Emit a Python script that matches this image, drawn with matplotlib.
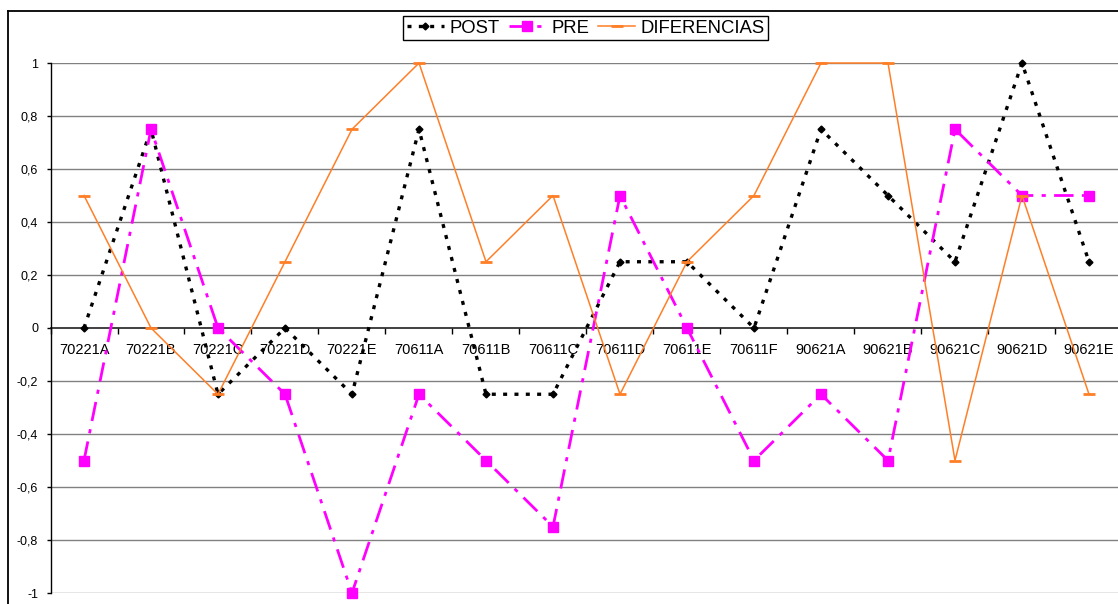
import matplotlib
matplotlib.use("Agg")
import matplotlib.pyplot as plt
from matplotlib.lines import Line2D
import numpy as np

plt.rcParams['font.family'] = ['Liberation Sans', 'DejaVu Sans']

categories = ["70221A", "70221B", "70221C", "70221D", "70221E", "70611A",
              "70611B", "70611C", "70611D", "70611E", "70611F", "90621A",
              "90621B", "90621C", "90621D", "90621E"]
post = [0, 0.75, -0.25, 0, -0.25, 0.75, -0.25, -0.25, 0.25, 0.25, 0,
        0.75, 0.5, 0.25, 1, 0.25]
pre = [-0.5, 0.75, 0, -0.25, -1, -0.25, -0.5, -0.75, 0.5, 0, -0.5,
       -0.25, -0.5, 0.75, 0.5, 0.5]
diferencias = [0.5, 0, -0.25, 0.25, 0.75, 1, 0.25, 0.5, -0.25, 0.25, 0.5,
               1, 1, -0.5, 0.5, -0.25]
y_ticks = [-1, -0.8, -0.6, -0.4, -0.2, 0, 0.2, 0.4, 0.6, 0.8, 1]
y_tick_labels = ["-1", "-0,8", "-0,6", "-0,4", "-0,2", "0", "0,2", "0,4",
                 "0,6", "0,8", "1"]

W, H = 1118, 604
fig = plt.figure(figsize=(W / 100, H / 100), dpi=100)
fig.patch.set_facecolor('white')

# outer chart frame (top and left edges visible)
fig.add_artist(Line2D([8 / W, 8 / W], [0, 1 - 11 / H], transform=fig.transFigure,
                      color='black', lw=1.3))
fig.add_artist(Line2D([8 / W, 1], [1 - 11 / H, 1 - 11 / H], transform=fig.transFigure,
                      color='black', lw=1.3))

left, right = 50.5, 50.5 + 16 * 67
bottom, top = 604 - 593, 604 - 63
ax = fig.add_axes([left / W, bottom / H, (right - left) / W, (top - bottom) / H])
ax.set_facecolor('none')

x = np.arange(len(categories))

# horizontal gridlines
for yv in y_ticks:
    if yv != 0:
        ax.axhline(yv, color='#808080', lw=1.0, zorder=1)

ax.plot(x, post, color='black', lw=2.4, linestyle=(0, (1.2, 2.2)),
        marker='D', markersize=3.5, markerfacecolor='black', markeredgecolor='black',
        label='POST', zorder=3, clip_on=False)
ax.plot(x, pre, color='#FF00FF', lw=2.0, linestyle=(0, (7, 3, 1.5, 3)),
        marker='s', markersize=7, markerfacecolor='#FF00FF', markeredgecolor='#FF00FF',
        label='PRE', zorder=4, clip_on=False)
ax.plot(x, diferencias, color='#FF7F27', lw=1.1, linestyle='-',
        marker='_', markersize=9, markeredgewidth=2, markeredgecolor='#FF7F27',
        label='DIFERENCIAS', zorder=5, clip_on=False)

ax.set_xlim(-0.5, len(categories) - 0.5)
ax.set_ylim(-1, 1)

for s in ['top', 'right']:
    ax.spines[s].set_visible(False)
ax.spines['left'].set_color('black')
ax.spines['left'].set_linewidth(1.0)
ax.spines['bottom'].set_position(('data', 0))
ax.spines['bottom'].set_color('#202020')
ax.spines['bottom'].set_linewidth(1.2)
ax.spines['bottom'].set_zorder(2)

ax.set_yticks(y_ticks)
ax.set_yticklabels(y_tick_labels, fontsize=9)
ax.tick_params(axis='y', direction='out', length=3, width=1, pad=6)

# category ticks at boundaries, labels at centers
ax.set_xticks(np.arange(len(categories) + 1) - 0.5)
ax.set_xticklabels([])
ax.tick_params(axis='x', which='major', direction='out', length=4, width=1)
ax.set_xticks(x, minor=True)
ax.set_xticklabels(categories, minor=True, fontsize=10.5)
ax.tick_params(axis='x', which='minor', length=0, pad=10.5)

leg = fig.legend(loc='center', bbox_to_anchor=((400.7 + 770.7) / 2 / W, 1 - 28.3 / H),
                 ncol=3, fontsize=13.3, frameon=True, fancybox=False,
                 edgecolor='black', framealpha=1, borderpad=0.2,
                 handlelength=2.0, handletextpad=0.3, columnspacing=0.5,
                 borderaxespad=0)
leg.get_frame().set_linewidth(1.0)

fig.savefig('out.png', dpi=100)
